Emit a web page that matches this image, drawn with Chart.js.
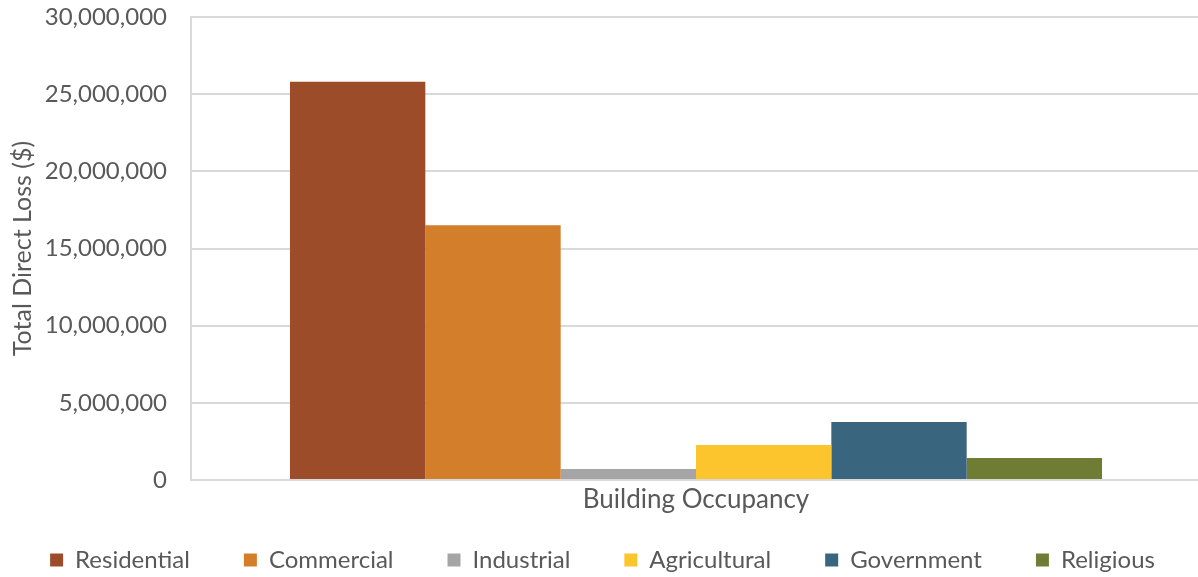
<!DOCTYPE html>
<html>
<head>
<meta charset="utf-8">
<script src="https://cdn.jsdelivr.net/npm/chart.js@4/dist/chart.umd.min.js"></script>
<style>
  html, body { margin: 0; padding: 0; background: #fff; overflow: hidden; }
  #wrap { width: 1201px; height: 582px; }
</style>
</head>
<body>
<div id="wrap"><canvas id="lossChart"></canvas></div>
<script>
const categories = ['Building Occupancy'];
const occupancyTypes = ['Residential', 'Commercial', 'Industrial', 'Agricultural', 'Government', 'Religious'];
const lossValues = [25800000, 16500000, 710000, 2270000, 3760000, 1430000];
const barColors = ['#9c4c28', '#d37e2a', '#a5a5a5', '#fdc52d', '#39657f', '#6f7c33'];
const yTicks = [0, 5000000, 10000000, 15000000, 20000000, 25000000, 30000000];

const textColor = '#595959';
const gridColor = '#d9d9d9';
const fontFamily = 'Lato, "Open Sans", sans-serif';

const datasets = occupancyTypes.map((name, i) => ({
    label: name,
    data: [lossValues[i]],
    backgroundColor: barColors[i],
    categoryPercentage: 0.804,
    barPercentage: 1.0
}));

// default legend items, with extra trailing space so the gaps match Excel's spread-out legend
function legendItems(chart) {
    const items = Chart.defaults.plugins.legend.labels.generateLabels(chart);
    items.forEach((item, i) => {
        if (i < items.length - 1) item.text += '\u2003\u2002';
    });
    return items;
}

new Chart(document.getElementById('lossChart').getContext('2d'), {
    type: 'bar',
    data: { labels: categories, datasets: datasets },
    options: {
        responsive: true,
        maintainAspectRatio: false,
        animation: false,
        layout: { padding: { top: 0, right: 0, left: 4, bottom: 0 } },
        scales: {
            x: {
                grid: { display: false, drawTicks: false },
                border: { color: gridColor, width: 2 },
                ticks: { color: textColor, font: { family: fontFamily, size: 26 }, padding: 4 },
                afterFit: axis => { axis.height = 44; }
            },
            y: {
                min: 0,
                max: yTicks[yTicks.length - 1],
                afterBuildTicks: axis => { axis.ticks = yTicks.map(v => ({ value: v })); },
                afterFit: axis => {
                    axis.width = 187;
                    axis.paddingTop = 17;
                },
                grid: { color: gridColor, lineWidth: 2, drawTicks: false },
                border: { color: gridColor, width: 2 },
                ticks: {
                    color: textColor,
                    font: { family: fontFamily, size: 24 },
                    padding: 24,
                    callback: v => v.toLocaleString('en-US')
                },
                title: {
                    display: true,
                    text: 'Total Direct Loss ($)',
                    color: textColor,
                    font: { family: fontFamily, size: 25 },
                    padding: { top: 4, bottom: 9 }
                }
            }
        },
        plugins: {
            legend: {
                position: 'bottom',
                labels: {
                    color: textColor,
                    font: { family: fontFamily, size: 24 },
                    boxWidth: 13,
                    boxHeight: 13,
                    padding: 24,
                    generateLabels: legendItems
                }
            },
            tooltip: { enabled: false }
        }
    }
});
</script>
</body>
</html>
